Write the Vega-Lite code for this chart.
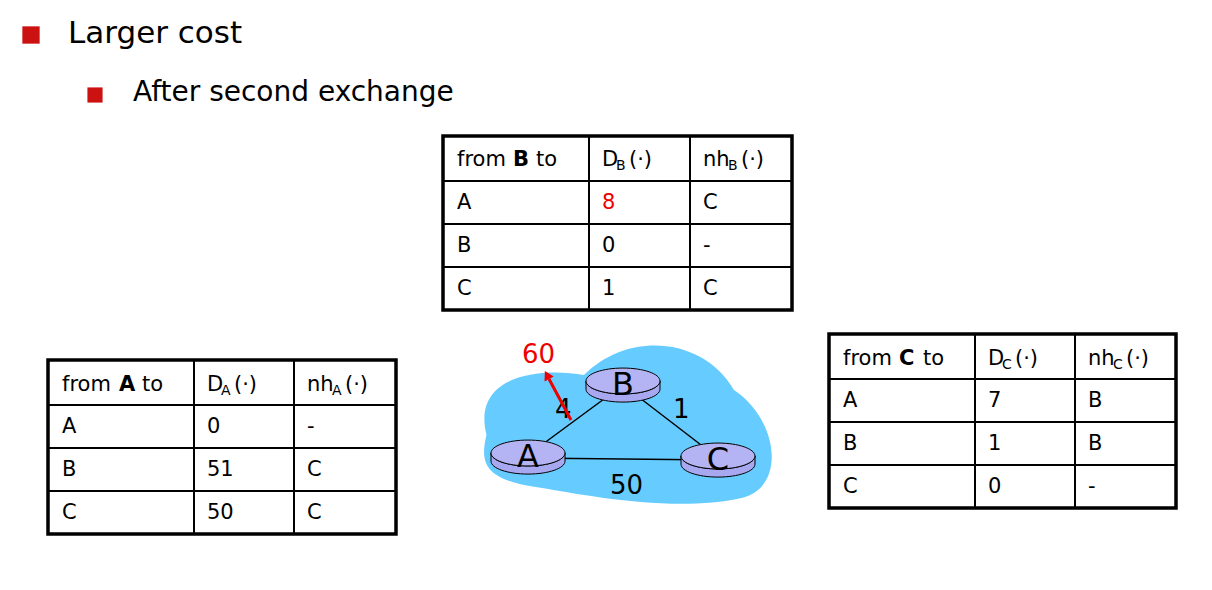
{
  "$schema": "https://vega.github.io/schema/vega-lite/v6.json",
  "autosize": {"type": "fit", "contains": "padding"},
  "width": 1212,
  "height": 590,
  "padding": 0,
  "background": "white",
  "config": {"view": {"stroke": null}, "text": {"font": "DejaVu Sans", "baseline": "middle", "align": "left"}},
  "datasets": {
    "bullets": [{"x": 31, "y": 35, "s": 300}, {"x": 95, "y": 95, "s": 230}],
    "titles": [{"x": 68, "y": 34, "t": "Larger cost", "f": 31}, {"x": 133, "y": 93, "t": "After second exchange", "f": 28}],
    "cells": [
      {"x": 457, "y": 160, "t": "from"}, {"x": 536, "y": 160, "t": "to"}, {"x": 602, "y": 160, "t": "D"}, {"x": 629, "y": 160, "t": "(·)"}, {"x": 703, "y": 160, "t": "nh"}, {"x": 741, "y": 160, "t": "(·)"},
      {"x": 457, "y": 203, "t": "A"}, {"x": 703, "y": 203, "t": "C"},
      {"x": 457, "y": 246, "t": "B"}, {"x": 602, "y": 246, "t": "0"}, {"x": 703, "y": 246, "t": "-"},
      {"x": 457, "y": 289, "t": "C"}, {"x": 602, "y": 289, "t": "1"}, {"x": 703, "y": 289, "t": "C"},
      {"x": 62, "y": 385, "t": "from"}, {"x": 142, "y": 385, "t": "to"}, {"x": 207, "y": 385, "t": "D"}, {"x": 234, "y": 385, "t": "(·)"}, {"x": 307, "y": 385, "t": "nh"}, {"x": 345, "y": 385, "t": "(·)"},
      {"x": 62, "y": 427, "t": "A"}, {"x": 207, "y": 427, "t": "0"}, {"x": 307, "y": 427, "t": "-"},
      {"x": 62, "y": 470, "t": "B"}, {"x": 207, "y": 470, "t": "51"}, {"x": 307, "y": 470, "t": "C"},
      {"x": 62, "y": 513, "t": "C"}, {"x": 207, "y": 513, "t": "50"}, {"x": 307, "y": 513, "t": "C"},
      {"x": 843, "y": 359, "t": "from"}, {"x": 923, "y": 359, "t": "to"}, {"x": 988, "y": 359, "t": "D"}, {"x": 1015, "y": 359, "t": "(·)"}, {"x": 1088, "y": 359, "t": "nh"}, {"x": 1126, "y": 359, "t": "(·)"},
      {"x": 843, "y": 401, "t": "A"}, {"x": 988, "y": 401, "t": "7"}, {"x": 1088, "y": 401, "t": "B"},
      {"x": 843, "y": 444, "t": "B"}, {"x": 988, "y": 444, "t": "1"}, {"x": 1088, "y": 444, "t": "B"},
      {"x": 843, "y": 487, "t": "C"}, {"x": 988, "y": 487, "t": "0"}, {"x": 1088, "y": 487, "t": "-"}
    ],
    "bold": [{"x": 513, "y": 160, "t": "B"}, {"x": 119, "y": 385, "t": "A"}, {"x": 899, "y": 359, "t": "C"}],
    "subs": [
      {"x": 616, "y": 166, "t": "B"}, {"x": 728, "y": 166, "t": "B"},
      {"x": 221, "y": 391, "t": "A"}, {"x": 332, "y": 391, "t": "A"},
      {"x": 1002, "y": 365, "t": "C"}, {"x": 1113, "y": 365, "t": "C"}
    ],
    "red": [{"x": 602, "y": 203, "t": "8", "f": 21}, {"x": 522, "y": 355, "t": "60", "f": 26}],
    "frames": [
      {"x": 443, "y": 136, "x2": 792, "y2": 310},
      {"x": 48, "y": 360, "x2": 396, "y2": 534},
      {"x": 829, "y": 334, "x2": 1176, "y2": 508}
    ],
    "grid": [
      {"x": 443, "y": 181, "x2": 792, "y2": 181}, {"x": 443, "y": 224, "x2": 792, "y2": 224}, {"x": 443, "y": 267, "x2": 792, "y2": 267},
      {"x": 589, "y": 136, "x2": 589, "y2": 310}, {"x": 690, "y": 136, "x2": 690, "y2": 310},
      {"x": 48, "y": 405, "x2": 396, "y2": 405}, {"x": 48, "y": 448, "x2": 396, "y2": 448}, {"x": 48, "y": 491, "x2": 396, "y2": 491},
      {"x": 194, "y": 360, "x2": 194, "y2": 534}, {"x": 294, "y": 360, "x2": 294, "y2": 534},
      {"x": 829, "y": 379, "x2": 1176, "y2": 379}, {"x": 829, "y": 422, "x2": 1176, "y2": 422}, {"x": 829, "y": 465, "x2": 1176, "y2": 465},
      {"x": 975, "y": 334, "x2": 975, "y2": 508}, {"x": 1075, "y": 334, "x2": 1075, "y2": 508}
    ],
    "links": [
      {"x": 528, "y": 455, "x2": 623, "y2": 385}, {"x": 623, "y": 385, "x2": 718, "y2": 458}, {"x": 528, "y": 458, "x2": 718, "y2": 460}
    ],
    "arrow": [{"x": 571, "y": 420, "x2": 549, "y2": 379}],
    "head": [{"x": 547, "y": 375}],
    "cloud": [{"x": 629, "y": 420}],
    "routers": [{"x": 623, "y": 381, "t": "B"}, {"x": 528, "y": 453, "t": "A"}, {"x": 718, "y": 456, "t": "C"}],
    "weights": [{"x": 555, "y": 410, "t": "4"}, {"x": 673, "y": 410, "t": "1"}, {"x": 610, "y": 486, "t": "50"}]
  },
  "encoding": {
    "x": {"field": "x", "type": "quantitative", "scale": {"domain": [0, 1212]}, "axis": null},
    "y": {"field": "y", "type": "quantitative", "scale": {"domain": [0, 590], "reverse": true}, "axis": null}
  },
  "layer": [
    {"data": {"name": "bullets"}, "mark": {"type": "square", "color": "#CC1111", "opacity": 1, "filled": true}, "encoding": {"size": {"field": "s", "type": "quantitative", "scale": null}}},
    {"data": {"name": "titles"}, "mark": {"type": "text", "font": "DejaVu Sans"}, "encoding": {"text": {"field": "t"}, "size": {"field": "f", "type": "quantitative", "scale": null}}},
    {"data": {"name": "cloud"}, "mark": {"type": "point", "filled": true, "opacity": 1, "color": "#66CCFF", "size": 90000, "shape": "M -0.95 0.1 C -1.05 -0.3 -0.6 -0.35 -0.3 -0.3 C 0 -0.6 0.5 -0.55 0.7 -0.2 C 1.0 0 1.05 0.45 0.75 0.52 C 0.3 0.62 -0.3 0.5 -0.6 0.45 C -0.95 0.4 -1.0 0.3 -0.95 0.1 Z"}},
    {"data": {"name": "links"}, "mark": {"type": "rule", "color": "black", "strokeWidth": 1.5}, "encoding": {"x2": {"field": "x2"}, "y2": {"field": "y2"}}},
    {"data": {"name": "routers"}, "mark": {"type": "point", "filled": true, "opacity": 1, "color": "#A8A8F0", "stroke": "black", "strokeWidth": 1, "size": 5476, "shape": "M -1 0 A 1 0.35 0 0 0 1 0 L 1 0.22 A 1 0.35 0 0 1 -1 0.22 Z"}},
    {"data": {"name": "routers"}, "mark": {"type": "point", "filled": true, "opacity": 1, "color": "#B4B4F4", "stroke": "black", "strokeWidth": 1, "size": 5476, "shape": "M -1 0 A 1 0.35 0 1 0 1 0 A 1 0.35 0 1 0 -1 0 Z"}},
    {"data": {"name": "routers"}, "mark": {"type": "text", "align": "center", "fontSize": 32, "dy": 4, "font": "DejaVu Sans"}, "encoding": {"text": {"field": "t"}}},
    {"data": {"name": "weights"}, "mark": {"type": "text", "fontSize": 26, "font": "DejaVu Sans"}, "encoding": {"text": {"field": "t"}}},
    {"data": {"name": "arrow"}, "mark": {"type": "rule", "color": "#EE0000", "strokeWidth": 3}, "encoding": {"x2": {"field": "x2"}, "y2": {"field": "y2"}}},
    {"data": {"name": "head"}, "mark": {"type": "point", "shape": "triangle-up", "filled": true, "opacity": 1, "color": "#EE0000", "size": 110, "angle": 332}},
    {"data": {"name": "grid"}, "mark": {"type": "rule", "color": "black", "strokeWidth": 2}, "encoding": {"x2": {"field": "x2"}, "y2": {"field": "y2"}}},
    {"data": {"name": "frames"}, "mark": {"type": "rect", "fill": null, "stroke": "black", "strokeWidth": 3.5}, "encoding": {"x2": {"field": "x2"}, "y2": {"field": "y2"}}},
    {"data": {"name": "cells"}, "mark": {"type": "text", "fontSize": 21}, "encoding": {"text": {"field": "t"}}},
    {"data": {"name": "bold"}, "mark": {"type": "text", "fontSize": 21, "fontWeight": "bold"}, "encoding": {"text": {"field": "t"}}},
    {"data": {"name": "subs"}, "mark": {"type": "text", "fontSize": 14}, "encoding": {"text": {"field": "t"}}},
    {"data": {"name": "red"}, "mark": {"type": "text", "color": "#EE0000"}, "encoding": {"text": {"field": "t"}, "size": {"field": "f", "type": "quantitative", "scale": null}}}
  ]
}
